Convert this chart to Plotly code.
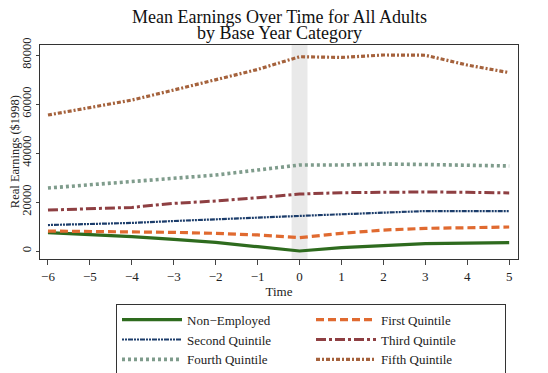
import plotly.graph_objects as go

# Anos relativos ao ano base
tempo = [-6, -5, -4, -3, -2, -1, 0, 1, 2, 3, 4, 5]

# Rendimentos médios (US$ de 1998) por categoria no ano base
nao_empregado = [7500, 6700, 5850, 4750, 3550, 1750, 0, 1350, 2300, 3000, 3250, 3400]
quintil_1 = [8150, 8000, 7750, 7600, 7200, 6550, 5450, 7200, 8550, 9250, 9500, 9800]
quintil_2 = [10600, 11000, 11450, 12250, 12900, 13350, 14300, 15000, 15500, 16300, 16300, 16300]
quintil_3 = [16700, 17300, 17800, 19450, 20400, 21750, 23250, 23800, 24100, 24100, 23950, 23700]
quintil_4 = [25700, 27000, 28050, 29400, 31000, 33050, 35100, 35100, 35500, 35300, 35000, 34700]
quintil_5 = [55500, 58400, 61600, 65700, 69800, 74100, 79300, 79000, 80000, 79900, 75900, 72800]

nomes = ["Non\u2212Employed", "First Quintile", "Second Quintile",
         "Third Quintile", "Fourth Quintile", "Fifth Quintile"]

series = [nao_empregado, quintil_1, quintil_2, quintil_3, quintil_4, quintil_5]

titulo = ["Mean Earnings Over Time for All Adults", "by Base Year Category"]
titulo_y = "Real Earnings ($1998)"

estilos = [
    dict(color="#2e6b1e", width=3.2, dash="solid"),
    dict(color="#e06a30", width=3.2, dash="8px,4px"),
    dict(color="#1c3d6b", width=2.2, dash="2px,1px,2px,1px,5px,1px"),
    dict(color="#8e3f42", width=3.0, dash="10px,3px,3px,3px"),
    dict(color="#7f9c8c", width=3.6, dash="3px,3px"),
    dict(color="#a5623c", width=3.2, dash="4px,2px,2px,2px"),
]

fig = go.Figure()

for nome, valores, estilo in zip(nomes, series, estilos):
    fig.add_trace(go.Scatter(x=tempo, y=valores, mode="lines", name=nome, line=estilo))

# Faixa cinza no ano base
fig.add_shape(type="rect", xref="x", yref="paper", x0=-0.19, x1=0.19, y0=0, y1=1,
              fillcolor="#e9e9e9", line=dict(width=0), layer="below")

# Título em duas linhas (anotações para controlar o espaçamento)
for linha, ypos in zip(titulo, [1.131, 1.056]):
    fig.add_annotation(text=linha, xref="paper", yref="paper", x=0.5, y=ypos,
                       xanchor="center", yanchor="middle", showarrow=False,
                       font=dict(size=18, color="#111"))

# Título do eixo y como anotação rotacionada
fig.add_annotation(text=titulo_y, xref="paper", yref="paper", x=-0.052, y=0.5,
                   xanchor="center", yanchor="middle", textangle=-90, showarrow=False,
                   font=dict(size=12.5, color="#222"))

# A página tem margem de 8px no <body>, por isso a figura é 8px menor
fig.update_layout(
    width=540, height=365,
    margin=dict(l=32, r=30, t=37, b=114, autoexpand=False),
    paper_bgcolor="white", plot_bgcolor="white",
    font=dict(family="Liberation Serif", size=13, color="#222"),
    showlegend=True,
    legend=dict(orientation="h", x=0.159, xanchor="left",
                yref="container", y=0.19, yanchor="top",
                entrywidth=119, entrywidthmode="pixels",
                bordercolor="#333", borderwidth=1, font=dict(size=13),
                tracegroupgap=0, itemwidth=60),
)

fig.update_xaxes(range=[-6.19, 5.21], tickmode="array", tickvals=tempo,
                 ticktext=[str(t).replace("-", "\u2212") for t in tempo],
                 ticks="outside", ticklen=5, showgrid=False, zeroline=False,
                 showline=True, linecolor="#333", mirror=True,
                 title=dict(text="Time", standoff=4, font=dict(size=13)),
                 tickfont=dict(size=13))

fig.update_yaxes(range=[-3265, 84080], tickvals=[0, 20000, 40000, 60000, 80000],
                 tickformat="d", tickangle=-90, ticks="outside", ticklen=3,
                 ticklabelstandoff=0,
                 showgrid=False, zeroline=False,
                 showline=True, linecolor="#333", mirror=True,
                 tickfont=dict(size=12.5))

fig.write_html("out.html", config={"displayModeBar": False})
